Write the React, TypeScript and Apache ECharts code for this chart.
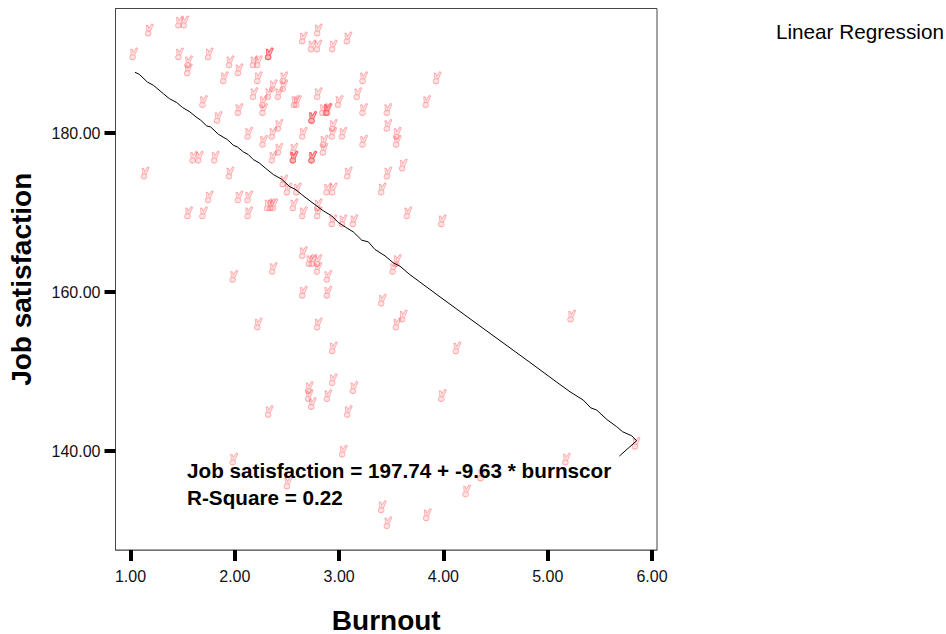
import React, { useEffect, useRef } from "react";
import * as echarts from "echarts";

const xTicks = [1, 2, 3, 4, 5, 6];
const yTicks = [140, 160, 180];
const xLabel = "Burnout";
const yLabel = "Job satisfaction";
const equation = "Job satisfaction = 197.74 + -9.63 * burnscor";
const rSquare = "R-Square = 0.22";
const legendNote = "Linear Regression";

const burnout = [
  1.18,1.03,1.47,1.52,1.47,1.755,1.557,1.554,1.954,2.04,1.9,1.7,1.84,2.04,2.184,2.225,2.33,2.33,2.33,2.225,2.184,2.273,2.276,2.327,2.369,2.423,2.47,2.47,2.577,2.6,
  2.657,2.8,2.74,2.797,2.944,3.085,3.235,3.18,2.8,3.0,2.746,2.746,2.746,2.85,2.887,2.896,2.887,3.235,3.468,3.468,3.558,3.558,2.944,2.94,3.037,2.657,2.423,2.366,2.133,2.276,
  2.423,2.366,2.567,2.567,2.567,2.567,2.746,2.746,2.746,2.855,2.855,3.235,3.615,3.088,3.468,3.414,2.89,2.944,2.51,2.47,2.6,1.605,1.66,1.813,1.14,1.954,
  1.755,2.04,2.133,2.32,2.35,2.375,2.567,2.8,2.8,2.657,2.133,1.557,1.7,2.94,3.037,3.142,3.66,2.657,2.72,2.75,2.797,2.797,2.893,2.893,2.657,2.369,1.99,2.225,2.8,3.414,3.558,3.523,3.615,3.555,2.944,2.944,
  3.142,2.714,2.714,2.893,2.743,3.088,2.33,3.04,1.99,2.51,3.414,3.468,3.99,5.18,4.367,4.223,3.846,5.847,4.13,3.99,5.23,3.94,3.84,
];
const satisfaction = [
  193,190,194,194,190,190,189,188,189,188,187,184,182,183,189,189,190,190,190,187,185,184,183,185,186,185,186,187,184,184,
  192,193,191,191,191,192,187,185,185,184,182,182,182,183,183,183,183,183,183,181,180,179,181,180,180,180,181,180,180,179,
  178,177,178,177,177,177,177,177,177,179,178,179,176,175,175,173,173,173,173,174,173,177,177,177,175,175,
  172,172,172,171,171,171,171,171,170,170,170,170,170,169,169,169,170,165,164,164,164,163,162,160,160,163,162,156,156,159,164,163,157,156,153,149,
  148,148,147,147,146,145,145,140,139,136,133,131,147,139,137,135,132,141,153,169,157,187,184,
];

const fitX = [
  1.043,1.084,1.161,1.219,1.314,1.372,1.443,1.5,1.57,1.628,1.673,1.731,1.769,1.842,1.928,1.986,2.024,2.082,2.129,2.177,2.235,2.306,2.369,2.45,2.529,2.577,2.641,2.721,2.849,2.929,
  2.992,3.073,3.136,3.217,3.28,3.344,3.44,3.52,3.584,3.673,3.967,4.255,4.543,4.83,5.06,5.214,5.341,5.412,5.47,5.566,5.662,5.719,5.806,5.853,5.687,
];
const fitY = [
  187.67,187.42,186.45,186.04,184.99,184.36,183.86,183.23,182.68,182.05,181.64,180.92,180.79,179.87,179.21,178.49,178.28,177.65,177.32,176.69,176.26,175.47,174.81,174.21,173.25,172.96,172.29,171.48,170.23,169.6,
  168.77,168.09,167.58,166.54,166.33,165.37,164.57,163.69,163.27,162.26,159.41,156.65,153.9,151.16,148.93,147.46,146.42,145.45,145.16,143.99,143.06,142.43,141.92,141.3,139.37,
];

const peace =
  "path://M3.2 6.9C1.8 6.9 .8 8 .8 9.4C.8 10.8 1.8 11.8 3.2 11.8C4.6 11.8 5.6 10.8 5.6 9.4C5.6 8 4.6 6.9 3.2 6.9Z" +
  "M2 7.2L1.6 1.6L3 1.8L3.6 4.6L6.2 .2L7.4 1L5 7.4";

export default function App() {
  const ref = useRef<HTMLDivElement>(null);
  useEffect(() => {
    const chart = echarts.init(ref.current!, null, { renderer: "svg" });
    const font = "'Liberation Sans', Arial, sans-serif";
    chart.setOption({
      animation: false,
      backgroundColor: "#fff",
      grid: { show: true, outerBoundsMode: "none", left: 115.5, right: 289, top: 8.5, bottom: 84, borderColor: "#454545", borderWidth: 1, backgroundColor: "#fff" },
      xAxis: {
        type: "value", min: 0.856, max: 6.048,
        name: xLabel, nameLocation: "middle", nameGap: 70,
        nameTextStyle: { fontFamily: font, fontWeight: "bold", fontSize: 28, color: "#000", verticalAlign: "middle" },
        splitLine: { show: false },
        axisLine: { show: true, onZero: false, lineStyle: { color: "#707070", width: 1 } },
        axisTick: { show: true, customValues: xTicks, length: 11, lineStyle: { color: "#000", width: 4 } },
        axisLabel: { customValues: xTicks, formatter: (v: number) => v.toFixed(2), fontFamily: font, fontSize: 16, color: "#111", margin: 18 },
      },
      yAxis: {
        type: "value", min: 127.55, max: 195.7,
        name: yLabel, nameLocation: "middle", nameGap: 94, nameRotate: 90,
        nameTextStyle: { fontFamily: font, fontWeight: "bold", fontSize: 28, color: "#000", verticalAlign: "middle" },
        splitLine: { show: false },
        axisLine: { show: true, onZero: false, lineStyle: { color: "#454545", width: 1 } },
        axisTick: { show: true, customValues: yTicks, length: 11, lineStyle: { color: "#000", width: 4 } },
        axisLabel: { customValues: yTicks, formatter: (v: number) => v.toFixed(2), fontFamily: font, fontSize: 16, color: "#111", margin: 15 },
      },
      series: [
        {
          type: "scatter",
          data: burnout.map((x, i) => [x, satisfaction[i]]),
          symbol: peace,
          symbolSize: [8, 12],
          symbolKeepAspect: false,
          silent: true,
          itemStyle: { color: "rgba(255,90,90,0.22)", borderColor: "rgba(255,60,70,0.5)", borderWidth: 0.9 },
          z: 2,
        },
        {
          type: "line",
          data: fitX.map((x, i) => [x, fitY[i]]),
          symbol: "none",
          silent: true,
          lineStyle: { color: "#000", width: 1 },
          z: 3,
        },
      ],
      graphic: [
        { type: "text", x: 187, y: 460, style: { text: equation, fontFamily: font, fontWeight: "bold", fontSize: 20.7, fill: "#000" }, z: 10 },
        { type: "text", x: 187, y: 487, style: { text: rSquare, fontFamily: font, fontWeight: "bold", fontSize: 20.7, fill: "#000" }, z: 10 },
        { type: "text", x: 776, y: 21, style: { text: legendNote, fontFamily: font, fontSize: 20.7, fill: "#000" }, z: 10 },
      ],
    });
    return () => chart.dispose();
  }, []);
  return <div ref={ref} style={{ position: "fixed", left: 0, top: 0, width: 946, height: 634 }} />;
}
